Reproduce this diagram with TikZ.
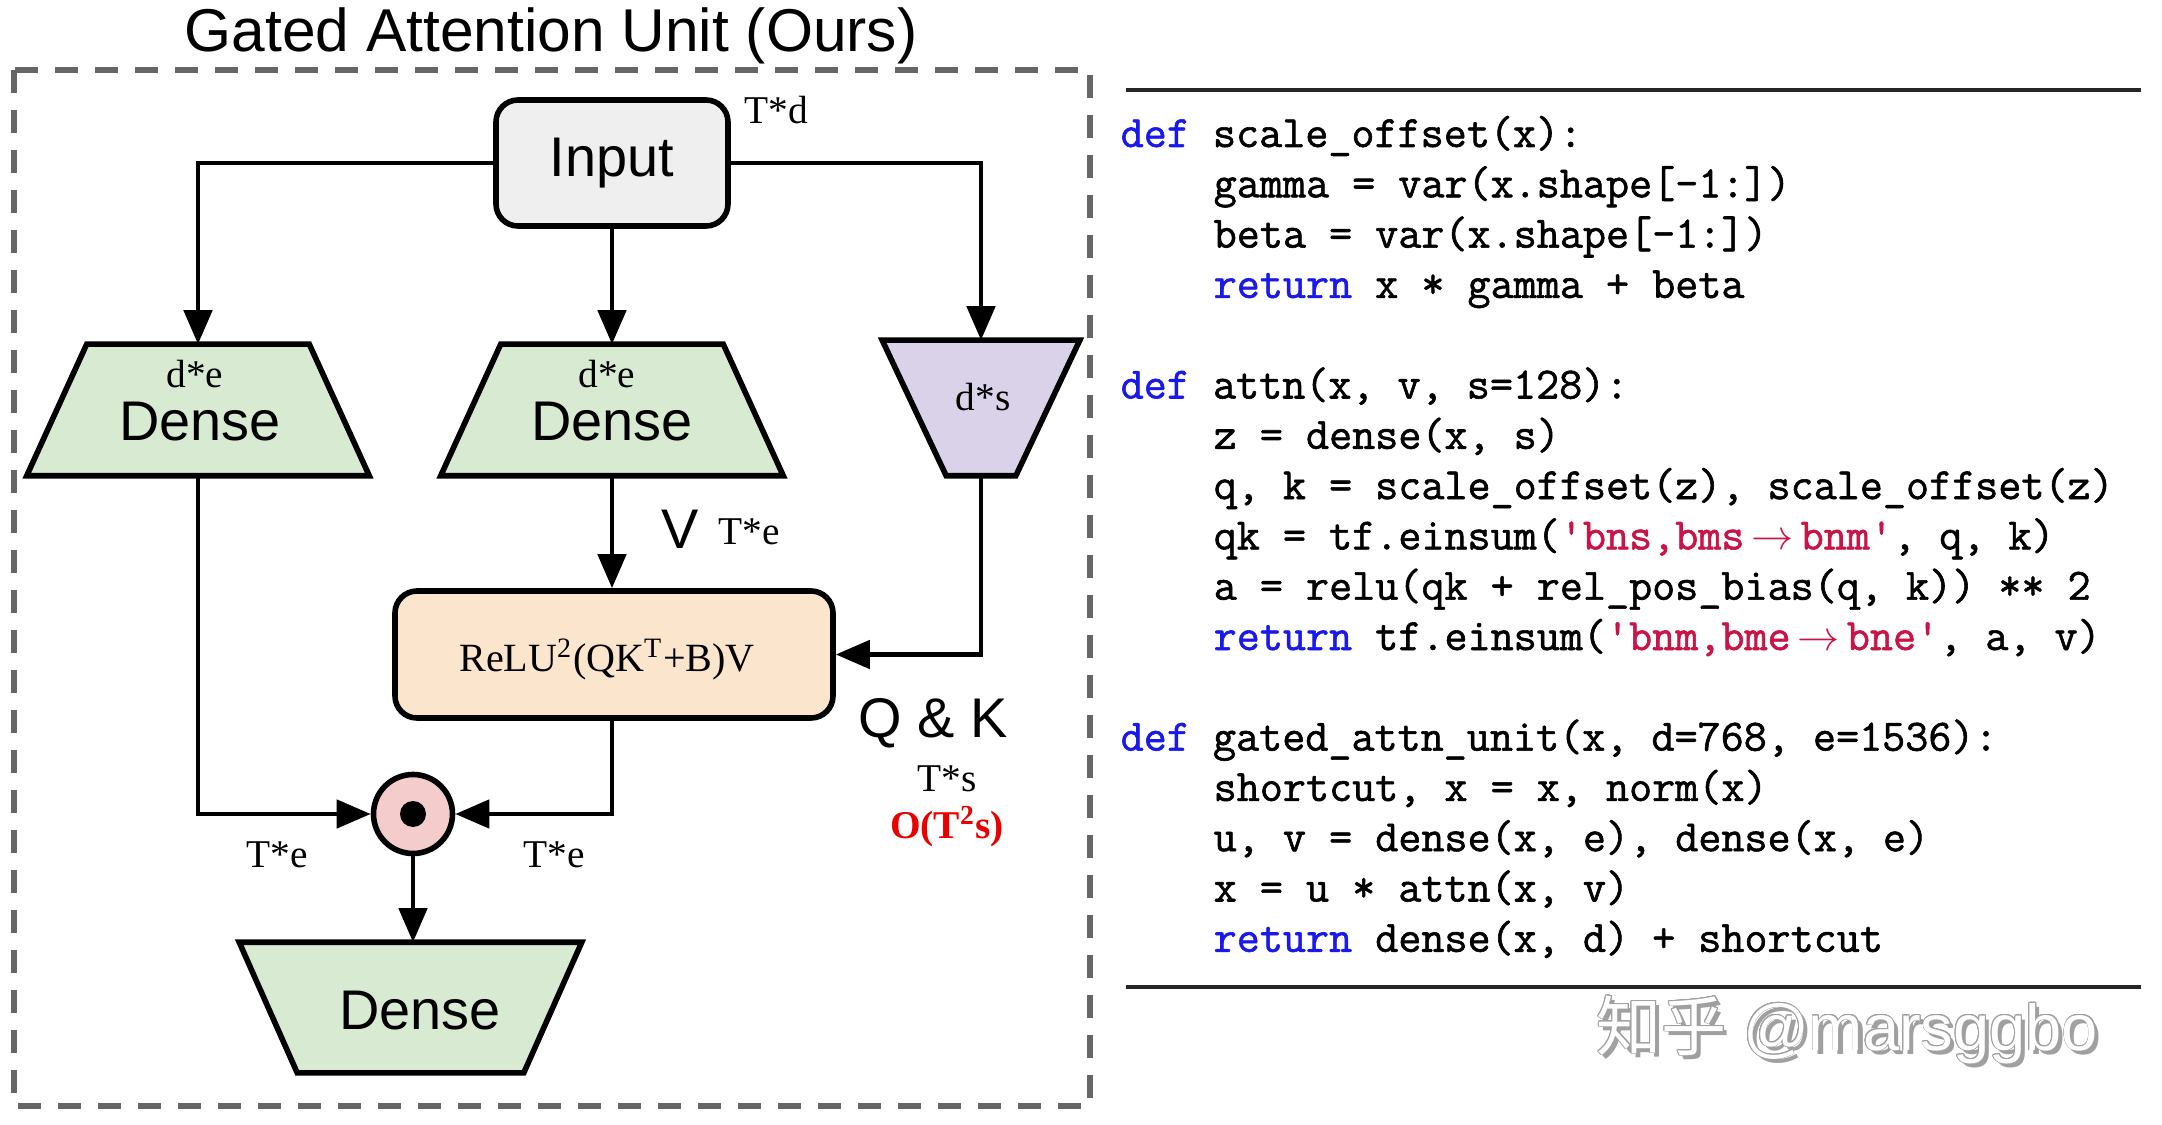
\documentclass[tikz,border=0pt]{standalone}
\usepackage{fontspec}
\setmainfont{Liberation Serif}
\setsansfont{Liberation Sans}
\setmonofont{Latin Modern Mono}[FakeBold=1.3]
\newfontfamily\cjk{Noto Sans CJK SC}
\usepackage{contour}
\usetikzlibrary{arrows.meta,calc}
\definecolor{inpgray}{HTML}{EFEFEF}
\definecolor{densegreen}{HTML}{D9EAD3}
\definecolor{qkpurple}{HTML}{D9D2E9}
\definecolor{attorange}{HTML}{FCE5CD}
\definecolor{mulpink}{HTML}{F4CCCC}
\definecolor{dashgray}{HTML}{666666}
\definecolor{kwblue}{RGB}{25,25,235}
\definecolor{strred}{RGB}{200,20,70}
\definecolor{cxred}{RGB}{235,0,0}
\definecolor{wmgray}{HTML}{A0A0A0}
\newcommand{\kw}[1]{\textcolor{kwblue}{#1}}
\newcommand{\strg}[1]{\textcolor{strred}{\textquotesingle#1\textquotesingle}}
\newcommand{\sarrow}{$\mkern3mu\rightarrow\mkern3mu$}
\tikzset{
  sanslbl/.style={font=\sffamily\fontsize{15.9}{18}\selectfont, inner sep=0},
  seriflbl/.style={font=\rmfamily\fontsize{11.2}{13}\selectfont, inner sep=0},
  holder/.style={draw=none, inner sep=0, outer sep=0.28mm},
  trapfill/.style={draw, line width=0.56mm, line join=miter},
  rbox/.style={draw, line width=0.56mm, rounded corners=2.2mm, inner sep=0},
  conn/.style={line width=0.48mm, -{Triangle[length=3.4mm,width=2.8mm]}},
  codeline/.style={font=\ttfamily\fontsize{12.75}{15}\selectfont, anchor=base west, inner sep=0},
  coderule/.style={line width=0.32mm, draw=black!85},
  wmtext/.style={font=\fontsize{18.5}{22}\selectfont, anchor=base west, inner sep=0},
}
\begin{document}
\begin{tikzpicture}[x=0.1mm, y=-0.1mm]
\useasboundingbox (0,0) rectangle (2162,1125);
\fill[white] (0,0) rectangle (2162,1125);

% title and frame
\node[font=\sffamily\fontsize{17.2}{20}\selectfont, anchor=base, inner sep=0] (title) at (551,52) {Gated Attention Unit (Ours)};
\draw[dashgray, line width=0.55mm, dash pattern=on 2.3mm off 1.7mm] (14,70) rectangle (1090,1106);

% nodes
\node[rbox, fill=inpgray, minimum width=23.2mm, minimum height=12.6mm, sanslbl] (input) at (612,163) {Input};

\node[holder, minimum width=33.7mm, minimum height=12.6mm] (dl) at (198,410) {};
\draw[trapfill, fill=densegreen] ($(dl.north west)+(60,0)$) -- ($(dl.north east)+(-60,0)$) -- (dl.south east) -- (dl.south west) -- cycle;
\node[holder, minimum width=33.7mm, minimum height=12.6mm] (dm) at (612,410) {};
\draw[trapfill, fill=densegreen] ($(dm.north west)+(60,0)$) -- ($(dm.north east)+(-60,0)$) -- (dm.south east) -- (dm.south west) -- cycle;
\node[holder, minimum width=19.2mm, minimum height=13mm] (dq) at (981,408) {};
\draw[trapfill, fill=qkpurple] (dq.north west) -- (dq.north east) -- ($(dq.south east)+(-64,0)$) -- ($(dq.south west)+(64,0)$) -- cycle;
\node[holder, minimum width=33.7mm, minimum height=12.5mm] (dout) at (410.5,1007.5) {};
\draw[trapfill, fill=densegreen] (dout.north west) -- (dout.north east) -- ($(dout.south east)+(-58,0)$) -- ($(dout.south west)+(58,0)$) -- cycle;

\node[rbox, fill=attorange, minimum width=43.8mm, minimum height=12.7mm] (att) at (614,654.5) {};
\node[circle, draw, line width=0.56mm, fill=mulpink, minimum size=7.9mm, inner sep=0] (mul) at (413,814) {};
\fill (mul.center) circle[radius=1.3mm];

% texts inside shapes
\node[seriflbl] (dle) at (195,374) {d*e};
\node[sanslbl] (dlt) at (200,422) {Dense};
\node[seriflbl] (dme) at (607,374) {d*e};
\node[sanslbl] (dmt) at (612,422) {Dense};
\node[seriflbl] (dqs) at (983,397) {d*s};
\node[sanslbl] (doutt) at (420,1011) {Dense};
\node[seriflbl, font=\rmfamily\fontsize{11.4}{13}\selectfont] (attt) at (607,659) {ReLU\textsuperscript{2}(QK\textsuperscript{T}+B)V};

% connectors
\draw[conn] (input.west) -| (dl.north);
\draw[conn] (input.south) -- (dm.north);
\draw[conn] (input.east) -| (dq.north);
\draw[conn] (dm.south) -- (dm.south |- att.north);
\draw[conn] (dq.south) |- (att.east);
\draw[conn] (dl.south) |- (mul.west);
\draw[conn] (att.south -| dm.south) |- (mul.east);
\draw[conn] (mul.south) -- (mul.south |- dout.north);

% labels
\node[seriflbl] (tdl) at (776,110) {T*d};
\node[sanslbl] (vl) at (680,529) {V};
\node[seriflbl] (tel) at (749,532) {T*e};
\node[sanslbl] (qkl) at (933,723) {Q \& K};
\node[seriflbl] (tsl) at (947,779) {T*s};
\node[seriflbl, text=cxred, font=\rmfamily\bfseries\fontsize{11.2}{13}\selectfont] (cxl) at (947,827) {O(T\textsuperscript{2}s)};
\node[seriflbl] (tel1) at (277,855) {T*e};
\node[seriflbl] (tel2) at (554,855) {T*e};

% code panel
\coordinate (rt1) at (1126,90);
\coordinate (rt2) at (2141,90);
\coordinate (rb1) at (1126,987);
\coordinate (rb2) at (2141,987);
\draw[coderule] (rt1) -- (rt2);
\draw[coderule] (rb1) -- (rb2);

\node[codeline] (c0) at (1120,147) {\kw{def} scale\_offset(x):};
\node[codeline] (c1) at (1213,197.3) {gamma = var(x.shape[-1:])};
\node[codeline] (c2) at (1213,247.6) {beta = var(x.shape[-1:])};
\node[codeline] (c3) at (1213,297.9) {\kw{return} x * gamma + beta};
\node[codeline] (c5) at (1120,398.5) {\kw{def} attn(x, v, s=128):};
\node[codeline] (c6) at (1213,448.8) {z = dense(x, s)};
\node[codeline] (c7) at (1213,499.1) {q, k = scale\_offset(z), scale\_offset(z)};
\node[codeline] (c8) at (1213,549.4) {qk = tf.einsum(\strg{bns,bms\sarrow bnm}, q, k)};
\node[codeline] (c9) at (1213,599.7) {a = relu(qk + rel\_pos\_bias(q, k)) ** 2};
\node[codeline] (c10) at (1213,650) {\kw{return} tf.einsum(\strg{bnm,bme\sarrow bne}, a, v)};
\node[codeline] (c12) at (1120,750.6) {\kw{def} gated\_attn\_unit(x, d=768, e=1536):};
\node[codeline] (c13) at (1213,800.9) {shortcut, x = x, norm(x)};
\node[codeline] (c14) at (1213,851.2) {u, v = dense(x, e), dense(x, e)};
\node[codeline] (c15) at (1213,901.5) {x = u * attn(x, v)};
\node[codeline] (c16) at (1213,951.8) {\kw{return} dense(x, d) + shortcut};

% watermark
\node[wmtext, text=wmgray] (wms) at (1600,1054) {{\cjk 知乎} \sffamily @marsggbo};
\node[wmtext] (wm) at (1596,1050) {\contourlength{0.25pt}\contour{wmgray}{\textcolor{white}{{\cjk 知乎} \sffamily @marsggbo}}};
\end{tikzpicture}
\end{document}
